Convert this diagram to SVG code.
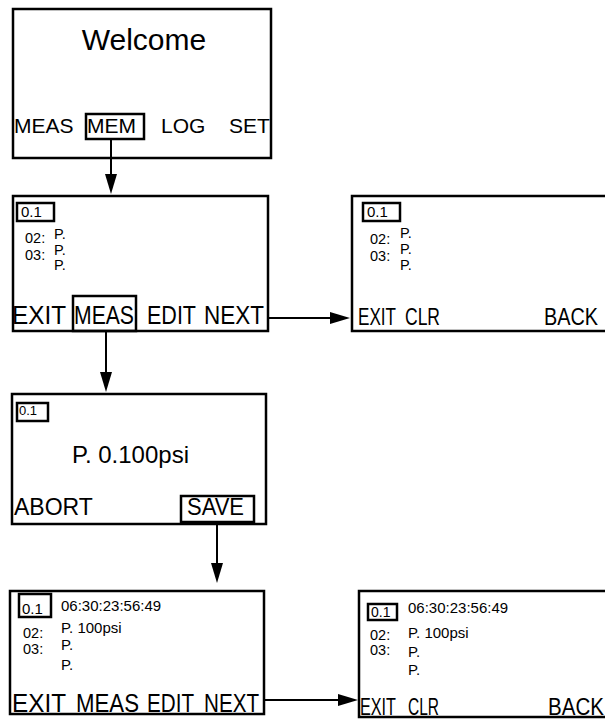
<svg xmlns="http://www.w3.org/2000/svg" width="605" height="719" viewBox="0 0 605 719">
<style>
.scr{fill:#fff;stroke:#000;stroke-width:2.5}
.btn{fill:none;stroke:#000;stroke-width:2.5}
.conn{fill:none;stroke:#000;stroke-width:2;marker-end:url(#ah)}
text{font-family:"Liberation Sans",Arial,Helvetica,sans-serif;fill:#000}
.big{font-size:30px}
.soft{font-size:21px}
.softc{font-size:25px}
.soft3{font-size:23px}
.sm{font-size:14.5px}
.sm15{font-size:15px}
.mid{font-size:24px}
</style>
<defs>
<marker id="ah" markerUnits="userSpaceOnUse" markerWidth="20" markerHeight="12" refX="16" refY="6" orient="auto">
<path d="M0,0 L20,6 L0,12 Z" fill="#000"/>
</marker>
</defs>

<g id="welcome">
<rect class="scr" x="13" y="9" width="258" height="149"/>
<text class="big" x="144" y="50" text-anchor="middle">Welcome</text>
<text class="soft" x="14" y="133">MEAS</text>
<rect class="btn" x="86" y="114" width="58" height="25"/>
<text class="soft" x="87" y="133">MEM</text>
<text class="soft" x="161" y="133">LOG</text>
<text class="soft" x="229" y="133">SET</text>
</g>

<g id="memory-list">
<rect class="scr" x="13" y="196" width="255" height="135"/>
<rect class="btn" x="17" y="203" width="37" height="18"/>
<text x="21" y="217" style="font-size:15px">0.1</text>
<text class="sm" x="25" y="243">02:</text>
<text class="sm" x="25" y="260">03:</text>
<text class="sm" x="54" y="239">P.</text>
<text class="sm" x="54" y="255">P.</text>
<text class="sm" x="54" y="270">P.</text>
<text class="softc" x="12" y="324" textLength="54" lengthAdjust="spacingAndGlyphs">EXIT</text>
<rect class="btn" x="73" y="296" width="63" height="35"/>
<text class="softc" x="74" y="324" textLength="60" lengthAdjust="spacingAndGlyphs">MEAS</text>
<text class="softc" x="147" y="324" textLength="49" lengthAdjust="spacingAndGlyphs">EDIT</text>
<text class="softc" x="204" y="324" textLength="60" lengthAdjust="spacingAndGlyphs">NEXT</text>
</g>

<g id="memory-clear">
<rect class="scr" x="352" y="196" width="300" height="135"/>
<rect class="btn" x="363" y="203" width="37" height="18"/>
<text x="367" y="217" style="font-size:15px">0.1</text>
<text class="sm" x="370" y="244">02:</text>
<text class="sm" x="370" y="261">03:</text>
<text class="sm" x="400" y="238">P.</text>
<text class="sm" x="400" y="254">P.</text>
<text class="sm" x="400" y="270">P.</text>
<text class="soft3" x="358" y="325" textLength="38" lengthAdjust="spacingAndGlyphs">EXIT</text>
<text class="soft3" x="405" y="325" textLength="35" lengthAdjust="spacingAndGlyphs">CLR</text>
<text class="soft3" x="544" y="325" textLength="54" lengthAdjust="spacingAndGlyphs">BACK</text>
</g>

<g id="measure">
<rect class="scr" x="12" y="394" width="254" height="130"/>
<rect class="btn" x="17" y="403" width="31" height="18"/>
<text x="19" y="415" style="font-size:13px">0.1</text>
<text class="mid" x="72" y="463">P. 0.100psi</text>
<text class="soft3" x="14" y="515">ABORT</text>
<rect class="btn" x="181" y="496" width="73" height="26"/>
<text class="soft3" x="187" y="515" textLength="57" lengthAdjust="spacingAndGlyphs">SAVE</text>
</g>

<g id="saved-list">
<rect class="scr" x="10" y="591" width="254" height="123"/>
<rect class="btn" x="19" y="594" width="32" height="23"/>
<text x="22" y="614" style="font-size:15px">0.1</text>
<text class="sm15" x="61" y="611">06:30:23:56:49</text>
<text class="sm" x="23" y="638">02:</text>
<text class="sm" x="23" y="654">03:</text>
<text class="sm15" x="61" y="633">P. 100psi</text>
<text class="sm15" x="61" y="650">P.</text>
<text class="sm15" x="61" y="670">P.</text>
<text class="softc" x="12" y="712" textLength="54" lengthAdjust="spacingAndGlyphs">EXIT</text>
<text class="softc" x="76" y="712" textLength="63" lengthAdjust="spacingAndGlyphs">MEAS</text>
<text class="softc" x="147" y="712" textLength="47" lengthAdjust="spacingAndGlyphs">EDIT</text>
<text class="softc" x="204" y="712" textLength="55" lengthAdjust="spacingAndGlyphs">NEXT</text>
</g>

<g id="saved-clear">
<rect class="scr" x="359" y="591" width="300" height="126"/>
<rect class="btn" x="368" y="604" width="29" height="16"/>
<text x="371" y="617" style="font-size:14px">0.1</text>
<text class="sm15" x="408" y="613">06:30:23:56:49</text>
<text class="sm" x="370" y="640">02:</text>
<text class="sm" x="370" y="655">03:</text>
<text class="sm15" x="408" y="638">P. 100psi</text>
<text class="sm15" x="408" y="657">P.</text>
<text class="sm15" x="408" y="675">P.</text>
<text class="soft3" x="360" y="715" textLength="36" lengthAdjust="spacingAndGlyphs">EXIT</text>
<text class="soft3" x="408" y="715" textLength="31" lengthAdjust="spacingAndGlyphs">CLR</text>
<text class="soft3" x="548" y="715" textLength="56" lengthAdjust="spacingAndGlyphs">BACK</text>
</g>

<g id="connectors">
<path class="conn" d="M111,140 V190"/>
<path class="conn" d="M269,318 H346"/>
<path class="conn" d="M106,332 V388"/>
<path class="conn" d="M217,523 V579"/>
<path class="conn" d="M265,700 H354"/>
</g>
</svg>
